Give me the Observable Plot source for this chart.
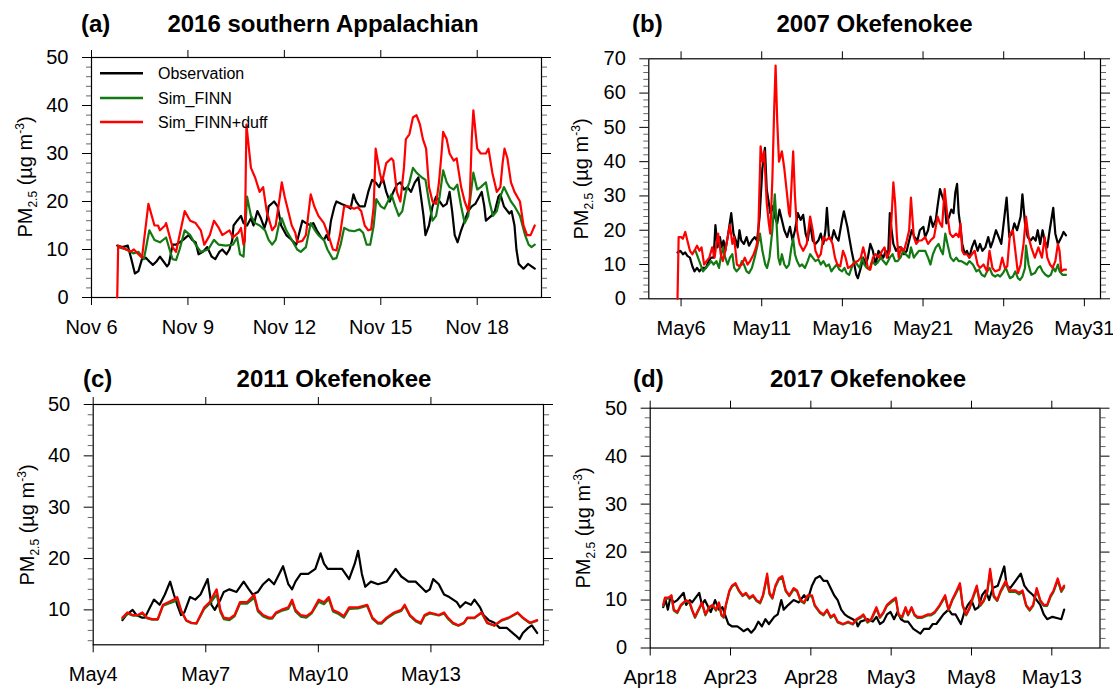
<!DOCTYPE html>
<html><head><meta charset="utf-8">
<script src="https://cdn.jsdelivr.net/npm/d3@7"></script>
<script src="https://cdn.jsdelivr.net/npm/@observablehq/plot@0.6"></script>
<style>
body{margin:0;background:#fff;}
#wrap{position:relative;width:1113px;height:688px;overflow:hidden;background:#fff;font-family:"Liberation Sans",Arial,Helvetica,sans-serif;color:#000;}
#wrap svg{position:absolute;}
</style></head>
<body><div id="wrap"></div>
<script>
// ---------- data: [day-of-month (decimal), PM2.5] ----------
const aObs=[[6.80,10.8],[6.96,10.5],[7.13,10.8],[7.24,8],[7.35,5],[7.46,5.5],[7.57,8],[7.69,8.3],[7.80,7.5],[7.91,6.8],[8.02,7.5],[8.13,8.5],[8.24,7.5],[8.35,6.5],[8.41,7],[8.52,11],[8.63,11],[8.74,11.5],[8.85,12],[9.02,13],[9.13,12],[9.24,11.5],[9.33,9],[9.46,9.5],[9.60,10.5],[9.74,8.5],[9.85,8],[9.98,9.5],[10.07,10],[10.20,9],[10.29,10],[10.38,12],[10.42,15],[10.53,16],[10.65,17],[10.73,15.5],[10.84,15],[10.96,16.5],[11.04,15],[11.16,18],[11.27,16.5],[11.38,14.5],[11.45,16],[11.51,19],[11.68,20],[11.79,19],[11.90,15],[12.06,13],[12.23,12],[12.37,11],[12.56,16],[12.67,15.5],[12.82,15],[12.90,15.5],[13.01,14],[13.15,12.5],[13.23,12],[13.31,13],[13.37,12],[13.45,16],[13.56,19],[13.62,20],[13.78,19.5],[13.95,19],[14.06,18.5],[14.15,21.5],[14.23,20],[14.34,19],[14.50,19],[14.61,22],[14.73,24.5],[14.84,24],[14.95,23],[15.06,25],[15.17,22],[15.28,20],[15.39,22],[15.50,23.5],[15.61,24],[15.72,22.5],[15.83,23],[15.94,22],[16.06,24],[16.17,25],[16.25,21],[16.33,17],[16.39,13],[16.50,15],[16.61,19],[16.72,21],[16.83,20],[16.94,19],[17.05,19.5],[17.14,22],[17.22,18],[17.30,13],[17.39,11.5],[17.50,14],[17.61,16],[17.72,18],[17.83,19],[17.94,19.5],[18.14,22],[18.22,19],[18.27,16],[18.44,17],[18.55,18],[18.66,21],[18.72,21.5],[18.83,19],[19.00,17.5],[19.07,18],[19.16,15],[19.22,10],[19.29,7],[19.44,6],[19.58,7],[19.69,6.5],[19.79,6]];
const aFinn=[[6.83,10.5],[7.08,10],[7.30,9.2],[7.46,9.5],[7.63,8],[7.80,14],[7.96,12],[8.13,11.5],[8.32,12.5],[8.43,10],[8.52,8],[8.63,7.8],[8.74,10],[8.90,14],[9.07,13],[9.24,11],[9.40,9.5],[9.63,10],[9.81,12],[9.96,11],[10.18,10.8],[10.40,11],[10.53,12.5],[10.62,9],[10.73,8.5],[10.79,15],[10.84,21],[10.96,17],[11.09,15.5],[11.23,15],[11.40,14],[11.51,12],[11.62,11],[11.73,12],[11.84,15.5],[11.92,16.5],[12.06,14],[12.23,12],[12.40,10],[12.51,9.5],[12.67,10.5],[12.82,15.5],[12.95,14],[13.06,13],[13.23,12],[13.34,10],[13.51,8],[13.62,8.2],[13.75,11],[13.86,14.5],[14.00,14],[14.17,13.8],[14.34,14.2],[14.45,13.5],[14.56,11],[14.67,11],[14.78,15],[14.86,20.5],[15.00,19],[15.11,18.5],[15.22,20],[15.33,21.5],[15.45,19],[15.56,17],[15.67,18],[15.78,22],[15.89,24],[16.00,27],[16.11,26],[16.28,25],[16.39,24.5],[16.50,20],[16.61,16],[16.72,17],[16.83,21],[16.94,26.5],[17.05,24],[17.14,23],[17.27,22.5],[17.38,23.5],[17.50,19],[17.61,15.5],[17.72,17],[17.81,22],[17.88,26],[18.00,22.5],[18.11,23],[18.27,24],[18.38,20],[18.49,17],[18.61,18],[18.72,21],[18.83,23],[18.94,21.5],[19.05,20],[19.16,19],[19.33,17],[19.49,13],[19.60,11],[19.69,10.5],[19.79,11]];
const aDuff=[[6.80,0],[6.83,10.8],[6.96,10.4],[7.08,10],[7.24,9.6],[7.32,10],[7.46,9],[7.57,8.3],[7.77,19.5],[7.96,15],[8.07,15],[8.13,14],[8.29,15],[8.32,15.5],[8.52,10.5],[8.63,9.5],[8.90,18],[9.07,16],[9.24,15.5],[9.40,14],[9.51,11],[9.68,13],[9.81,16],[9.96,14.5],[10.07,13],[10.29,14],[10.40,12.5],[10.57,13.5],[10.65,14.5],[10.73,11],[10.77,12],[10.82,36],[10.96,27],[11.09,25],[11.23,22],[11.34,23],[11.45,18],[11.62,14],[11.73,15],[11.86,21],[11.92,24],[12.01,21],[12.12,18],[12.23,15],[12.34,13.5],[12.40,11.5],[12.56,11.8],[12.67,13],[12.82,21.5],[12.93,19],[13.06,17],[13.23,15.5],[13.37,13],[13.51,10],[13.62,9.8],[13.73,13],[13.86,19],[14.00,19],[14.17,18.5],[14.28,18.8],[14.39,18],[14.50,15],[14.61,14],[14.70,14.2],[14.78,19],[14.84,31],[14.97,26],[15.04,24],[15.17,28],[15.33,29],[15.39,28.5],[15.50,22],[15.61,20],[15.72,27],[15.78,33],[15.89,34],[16.00,37.5],[16.11,38],[16.22,36],[16.31,33],[16.41,31],[16.50,23],[16.61,20],[16.72,19.5],[16.81,24],[16.89,30],[16.94,34.5],[17.05,33],[17.14,30],[17.27,28.5],[17.36,29],[17.50,23],[17.61,20],[17.72,18],[17.77,21],[17.83,33],[17.88,39],[18.00,31],[18.11,30],[18.27,30],[18.35,31],[18.47,26],[18.61,22],[18.72,23],[18.79,28],[18.85,31],[18.94,29],[19.05,24],[19.16,22],[19.33,20],[19.44,15],[19.55,13],[19.66,13],[19.79,15]];

const bObs=[[5.78,13.5],[5.96,14],[6.11,13],[6.26,13.5],[6.39,12.5],[6.55,12],[6.70,9.5],[6.83,8],[6.99,9],[7.14,8],[7.32,9],[7.54,9],[7.71,11],[7.86,12],[8.02,12],[8.13,21.5],[8.26,15],[8.41,18],[8.52,15],[8.63,17],[8.74,14],[8.89,18],[9.11,25],[9.25,19],[9.40,17],[9.51,15],[9.62,20],[9.73,17],[9.90,16],[10.06,18],[10.21,15.5],[10.39,17],[10.56,18],[10.71,17],[10.87,24],[11.04,38],[11.20,44],[11.31,32],[11.44,28],[11.53,25],[11.66,27],[11.81,24],[11.96,22],[12.10,26],[12.25,23],[12.40,20],[12.58,18],[12.75,21],[12.91,17],[13.06,20],[13.24,25],[13.41,23],[13.57,24.5],[13.72,19],[13.85,17],[14.00,22],[14.16,17],[14.33,16],[14.51,17],[14.66,19],[14.82,16],[14.95,20],[15.04,26.5],[15.17,18],[15.32,17],[15.47,20],[15.61,18],[15.76,17],[15.98,23],[16.09,25.5],[16.31,21],[16.42,18],[16.57,14],[16.70,11],[16.86,7],[16.96,6],[17.14,9],[17.29,12],[17.45,10],[17.58,12],[17.73,16],[17.89,14],[18.06,10],[18.24,14],[18.39,13],[18.54,12],[18.68,14],[18.83,12],[18.94,25],[19.05,20],[19.16,16],[19.33,14],[19.49,15],[19.64,15],[19.82,13],[19.99,14],[20.14,17],[20.30,20],[20.47,18],[20.65,17],[20.80,20],[21.02,21],[21.13,18],[21.31,20],[21.46,24],[21.61,21],[21.79,23],[21.90,27],[22.05,32],[22.18,30],[22.34,28],[22.45,22],[22.62,24],[22.75,26],[22.89,25],[23.00,31],[23.11,33.5],[23.21,25],[23.32,21],[23.43,16],[23.59,13],[23.72,14],[23.87,12],[24.03,15],[24.20,17],[24.38,14],[24.53,16],[24.68,14],[24.86,15],[25.04,18],[25.19,15],[25.34,17],[25.52,20],[25.69,18],[25.85,16],[26.18,29.5],[26.35,18],[26.50,19],[26.66,22],[26.83,20],[27.05,24],[27.16,30.5],[27.32,22],[27.49,18],[27.67,17],[27.82,18],[27.98,17],[28.11,20],[28.26,16],[28.41,20],[28.54,17],[28.70,15],[28.85,20],[29.07,26.5],[29.20,19],[29.36,16],[29.58,18],[29.71,19.5],[29.86,18.5]];
const bFinn=[[6.90,14],[7.05,12],[7.21,10],[7.36,8],[7.54,9],[7.71,10],[7.86,11],[8.02,10],[8.19,11],[8.35,9],[8.46,12],[8.59,15],[8.74,12],[8.89,10],[9.03,12],[9.18,13],[9.29,9],[9.44,8],[9.62,9],[9.77,11],[9.90,10],[10.06,8],[10.21,7.5],[10.39,9],[10.56,12],[10.71,15],[10.89,19],[11.04,14],[11.22,10],[11.33,9],[11.48,12],[11.66,20],[11.81,30.5],[11.92,22],[12.03,12],[12.14,10],[12.25,13],[12.40,10],[12.54,9],[12.69,10],[12.84,15],[12.95,17.5],[13.06,13],[13.19,11],[13.35,9.5],[13.50,10],[13.68,9],[13.85,11],[14.00,13],[14.16,12],[14.33,11],[14.51,11.5],[14.66,10],[14.82,11],[14.99,9.5],[15.17,10],[15.32,8],[15.47,9],[15.65,10],[15.82,8.5],[15.98,8],[16.13,9],[16.26,7.5],[16.42,7],[16.57,9],[16.75,11],[16.92,10],[17.07,9],[17.23,12],[17.36,10],[17.51,9],[17.67,8.5],[17.84,11],[18.02,10],[18.17,10.5],[18.39,12],[18.54,11],[18.72,10],[18.94,12],[19.11,13],[19.27,11],[19.42,11],[19.60,12],[19.77,14],[19.93,13],[20.14,12],[20.25,15],[20.43,12],[20.58,13],[20.74,14],[20.91,14],[21.13,14],[21.31,12],[21.46,10],[21.61,13],[21.79,15],[21.96,16],[22.12,14],[22.23,13],[22.38,19],[22.56,15],[22.71,12],[22.89,11],[23.06,12],[23.21,11],[23.37,11],[23.54,10.5],[23.72,10],[23.87,11],[24.09,10],[24.31,8],[24.46,8.5],[24.64,7],[24.82,6.5],[24.97,8],[25.12,9],[25.30,7],[25.47,6.5],[25.63,7],[25.78,6.5],[25.96,7.5],[26.13,9],[26.29,7],[26.39,6],[26.57,6.5],[26.72,8],[26.88,6],[27.01,5.5],[27.16,6.5],[27.32,9],[27.38,15.5],[27.54,10],[27.71,7],[27.93,7.5],[28.11,9],[28.26,9.5],[28.41,8],[28.59,7],[28.76,6.5],[28.92,7],[29.07,9],[29.20,8],[29.36,10],[29.46,8],[29.64,7],[29.86,7]];
const bDuff=[[5.78,0],[5.85,18],[6.00,18],[6.11,17.5],[6.26,19.5],[6.39,17],[6.55,14],[6.70,13],[6.88,14.5],[6.99,15.5],[7.14,14],[7.27,15],[7.43,10],[7.58,11],[7.75,12],[7.93,15],[8.08,12],[8.19,16],[8.30,19],[8.46,13],[8.59,11],[8.74,14],[8.89,18],[9.03,21.5],[9.18,16],[9.29,18],[9.46,10],[9.62,9.5],[9.77,10],[9.95,12],[10.12,10],[10.28,11],[10.50,13],[10.65,15],[10.78,18],[10.93,44.5],[11.04,40],[11.15,43],[11.31,28],[11.44,22],[11.53,19],[11.66,35],[11.77,55],[11.86,68],[11.96,52],[12.07,40],[12.25,43],[12.40,38],[12.58,30],[12.69,25],[12.75,24],[12.95,43],[13.06,30],[13.19,20],[13.35,16],[13.57,14],[13.79,16],[14.00,24],[14.16,20],[14.33,14],[14.51,12],[14.66,13],[14.82,18],[14.99,17],[15.21,18],[15.39,16],[15.54,12],[15.69,10],[15.87,9.5],[16.04,14],[16.20,12],[16.35,9],[16.53,9.5],[16.75,10.5],[16.96,11],[17.14,12],[17.29,15],[17.45,12],[17.58,9],[17.73,8.5],[17.89,12],[18.06,13],[18.28,12],[18.46,14],[18.61,15],[18.76,12],[18.94,14],[19.16,34],[19.27,28],[19.38,18],[19.49,12],[19.64,15],[19.82,14],[19.99,17],[20.14,20],[20.25,29.5],[20.43,18],[20.58,16],[20.74,17],[20.91,17],[21.13,18],[21.31,16],[21.46,17],[21.68,18],[21.90,24],[22.05,22],[22.18,21],[22.34,32],[22.49,25],[22.67,19],[22.84,18],[23.06,19],[23.21,18],[23.32,22],[23.43,14],[23.54,13],[23.72,13],[23.87,12],[24.03,13],[24.20,14],[24.38,10],[24.53,9],[24.75,10],[24.97,8],[25.12,14],[25.30,9],[25.47,8],[25.74,8.5],[25.91,12],[26.07,9],[26.22,9.5],[26.39,19],[26.57,20],[26.72,14],[26.88,7.5],[27.05,10],[27.23,16],[27.38,24],[27.54,18],[27.71,15],[27.93,12],[28.15,15],[28.37,12],[28.54,18],[28.70,12],[28.87,10],[29.03,9],[29.20,11],[29.36,16],[29.46,14],[29.57,8],[29.73,8.5],[29.86,8.5]];

const cObs=[[4.78,8],[4.88,9],[5.05,10],[5.15,9],[5.29,8.5],[5.38,8.5],[5.48,10],[5.62,12],[5.77,11],[5.91,13],[6.05,15.5],[6.15,13],[6.24,11],[6.34,9],[6.43,9.5],[6.58,12.5],[6.72,12],[6.86,13],[7.05,16],[7.15,11],[7.24,10],[7.39,12],[7.48,13.5],[7.63,14],[7.82,13.5],[8.01,15.5],[8.15,14],[8.25,13],[8.39,13.5],[8.53,15],[8.68,16],[8.82,15],[9.06,18.5],[9.20,15],[9.30,14],[9.39,15.5],[9.53,17],[9.73,17],[9.92,18],[10.06,21],[10.15,19],[10.25,18],[10.44,18],[10.63,18],[10.82,16],[10.97,19],[11.06,21.5],[11.16,17],[11.25,14.5],[11.40,15.5],[11.59,15],[11.82,15.5],[12.06,18],[12.21,16.5],[12.40,15.5],[12.59,15.5],[12.73,14.5],[12.87,13.5],[12.97,14],[13.06,16],[13.21,15],[13.35,13],[13.49,12.5],[13.69,11.5],[13.78,10.5],[13.92,11.5],[14.07,11],[14.16,12],[14.31,10.5],[14.40,9],[14.54,8],[14.69,7.5],[14.83,6.5],[15.02,6.5],[15.26,5],[15.36,4.3],[15.45,5.5],[15.59,6.5],[15.69,7],[15.83,5.5]];
const cFinn=[[4.78,8.3],[4.91,9.3],[5.05,8.9],[5.19,8.9],[5.31,9.3],[5.43,8.4],[5.57,8.1],[5.72,8.1],[5.86,10.8],[6.00,11.2],[6.15,11.6],[6.24,12],[6.34,9.8],[6.48,7.9],[6.62,7.4],[6.75,7.3],[6.86,8.8],[6.96,10.2],[7.10,11.2],[7.29,13],[7.39,9.6],[7.48,8.2],[7.63,8],[7.77,8.8],[7.91,11.2],[8.10,11.2],[8.23,12],[8.29,12.4],[8.39,9.7],[8.53,8.7],[8.68,8.3],[8.77,8.3],[8.87,9.3],[9.01,9.8],[9.20,10.2],[9.30,11.6],[9.39,9.7],[9.53,8.7],[9.68,8.5],[9.82,9.3],[10.01,11.6],[10.15,11.1],[10.28,12.1],[10.39,9.7],[10.54,9.2],[10.68,8.5],[10.82,10.2],[11.06,10.3],[11.30,10.8],[11.44,8.3],[11.59,7.3],[11.68,7.3],[11.82,8.3],[12.02,9.3],[12.21,9.8],[12.30,10.8],[12.44,8.8],[12.59,7.8],[12.73,7.3],[12.83,8.8],[12.97,9.3],[13.21,8.9],[13.35,9.3],[13.45,8.3],[13.59,7.3],[13.73,6.9],[13.88,7.4],[13.97,8.4],[14.16,8.4],[14.35,9.4],[14.50,7.4],[14.69,6.9],[14.88,7.9],[15.07,8.4],[15.31,9.4],[15.45,8.4],[15.64,7.4],[15.83,7.9]];
const cDuff=[[4.78,8.5],[4.91,9.5],[5.05,9],[5.19,9],[5.31,9.5],[5.43,8.5],[5.57,8.2],[5.72,8.2],[5.86,11],[6.00,11.5],[6.15,12],[6.24,12.5],[6.34,10],[6.48,8],[6.62,7.5],[6.75,7.4],[6.86,9],[6.96,10.5],[7.10,11.5],[7.29,14],[7.39,10],[7.48,8.5],[7.63,8.3],[7.77,9],[7.91,11.5],[8.10,11.5],[8.23,12.5],[8.29,13],[8.39,10],[8.53,9],[8.68,8.5],[8.77,8.5],[8.87,9.5],[9.01,10],[9.20,10.5],[9.30,12],[9.39,10],[9.53,9],[9.68,8.8],[9.82,9.5],[10.01,12],[10.15,11.5],[10.28,12.5],[10.39,10],[10.54,9.5],[10.68,8.8],[10.82,10.5],[11.06,10.5],[11.30,11],[11.44,8.5],[11.59,7.5],[11.68,7.5],[11.82,8.5],[12.02,9.5],[12.21,10],[12.30,11],[12.44,9],[12.59,8],[12.73,7.5],[12.83,9],[12.97,9.5],[13.21,9],[13.35,9.5],[13.45,8.5],[13.59,7.5],[13.73,7],[13.88,7.5],[13.97,8.5],[14.16,8.5],[14.35,9.5],[14.50,7.5],[14.69,7],[14.88,8],[15.07,8.5],[15.31,9.5],[15.45,8.5],[15.64,7.5],[15.83,8]];

// panel d: day counted from 0 April (so 31 = 1 May)
const dObs=[[18.81,8.5],[18.96,10],[19.10,8],[19.25,10.5],[19.47,9.5],[19.69,10],[20.08,11.5],[20.24,9],[20.46,10],[20.61,9.5],[21.05,11.5],[21.22,9],[21.40,10],[21.62,8.5],[21.77,7.5],[22.04,10],[22.28,8],[22.50,8.5],[22.65,7],[22.87,5],[23.09,4.5],[23.42,4.5],[23.64,4],[23.81,3.5],[24.07,4],[24.29,3.2],[24.51,4],[24.73,5.5],[24.95,4.5],[25.17,6],[25.39,5],[25.72,6.5],[25.94,7],[26.16,10],[26.31,8],[26.60,9],[26.93,10],[27.25,9.5],[27.58,11],[27.80,10],[28.07,13],[28.29,14.5],[28.57,15],[28.79,14],[29.01,14],[29.23,12.5],[29.45,11],[29.67,10],[29.89,8],[30.11,7],[30.32,6.5],[30.61,6],[30.83,5.5],[30.92,4.5],[31.09,5.5],[31.53,6],[31.86,5.5],[32.08,6.5],[32.30,5],[32.52,5.5],[32.74,7],[32.96,7.5],[33.18,6],[33.39,7.5],[33.61,6],[33.83,5.5],[34.05,5.5],[34.38,4],[34.82,3],[35.04,4],[35.37,4],[35.59,5],[35.81,5],[36.03,6],[36.25,7],[36.57,8],[36.79,7],[37.01,7],[37.34,5],[37.56,7.5],[37.78,9],[38.00,10],[38.22,8],[38.44,8.5],[38.66,11],[38.88,12],[39.10,10],[39.32,12.5],[39.64,13],[40.04,17],[40.19,13],[40.41,12.5],[40.74,14],[41.07,15.5],[41.29,13],[41.51,12],[41.84,11],[42.06,10],[42.28,9],[42.50,7],[42.71,6],[43.04,6.5],[43.37,6.2],[43.59,6],[43.77,8]];
const dFinn=[[18.81,8.8],[18.92,10.3],[19.14,10.3],[19.32,10.8],[19.47,7.8],[19.69,7.3],[19.91,8.8],[20.24,9.8],[20.46,9.3],[20.61,7.8],[20.79,6.3],[21.00,7.8],[21.22,9.3],[21.44,6.8],[21.66,8.3],[21.88,8.8],[22.10,7.8],[22.28,9.3],[22.43,6.8],[22.58,6.3],[22.71,8.8],[22.93,11.8],[23.09,12.8],[23.31,13.3],[23.53,11.8],[23.75,10.8],[23.96,11.3],[24.18,10.3],[24.40,10.8],[24.62,9.8],[24.84,9.3],[25.02,10.8],[25.17,13.2],[25.28,14.8],[25.43,11.2],[25.61,10.3],[25.79,12.7],[26.00,14.2],[26.22,14.6],[26.44,11.8],[26.66,10.8],[26.93,12.2],[27.14,11.8],[27.36,9.8],[27.58,9.3],[27.80,10.8],[28.07,10.8],[28.24,8.8],[28.57,7.3],[28.79,6.8],[29.01,7.8],[29.23,6.3],[29.45,6.8],[29.67,5.3],[30.00,4.9],[30.32,5.3],[30.61,4.9],[30.83,5.8],[31.09,6.3],[31.27,6.8],[31.53,5.3],[31.75,5.8],[32.08,8.2],[32.30,6.3],[32.52,7.3],[32.74,8.8],[33.07,9.7],[33.29,10.2],[33.46,6.8],[33.68,6.3],[33.90,8.3],[34.05,6.8],[34.27,8.3],[34.45,6.8],[34.64,6.3],[34.93,6.3],[35.26,6.8],[35.48,6.8],[35.70,7.3],[36.03,8.8],[36.36,10.7],[36.57,7.8],[36.79,9.8],[37.01,11.2],[37.28,13.1],[37.45,8.8],[37.67,6.8],[37.89,8.3],[38.07,10.2],[38.33,12.6],[38.55,8.8],[38.77,9.8],[38.99,11.7],[39.16,15.8],[39.38,10.7],[39.60,9.8],[39.82,11.7],[40.13,13.6],[40.35,11.7],[40.74,11.7],[40.96,11.2],[41.18,11.7],[41.40,8.8],[41.62,7.8],[41.84,8.8],[42.06,12.1],[42.28,9.8],[42.50,8.8],[42.71,8.8],[42.93,10.7],[43.11,11.7],[43.37,14.1],[43.59,11.7],[43.77,12.7]];
const dDuff=[[18.81,9],[18.92,10.5],[19.14,10.5],[19.32,11],[19.47,8],[19.69,7.5],[19.91,9],[20.24,10],[20.46,9.5],[20.61,8],[20.79,6.5],[21.00,8],[21.22,9.5],[21.44,7],[21.66,8.5],[21.88,9],[22.10,8],[22.28,9.5],[22.43,7],[22.58,6.5],[22.71,9],[22.93,12],[23.09,13],[23.31,13.5],[23.53,12],[23.75,11],[23.96,11.5],[24.18,10.5],[24.40,11],[24.62,10],[24.84,9.5],[25.02,11],[25.17,13.5],[25.28,15.5],[25.43,11.5],[25.61,10.5],[25.79,13],[26.00,14.5],[26.22,15],[26.44,12],[26.66,11],[26.93,12.5],[27.14,12],[27.36,10],[27.58,9.5],[27.80,11],[28.07,11],[28.24,9],[28.57,7.5],[28.79,7],[29.01,8],[29.23,6.5],[29.45,7],[29.67,5.5],[30.00,5],[30.32,5.5],[30.61,5],[30.83,6],[31.09,6.5],[31.27,7],[31.53,5.5],[31.75,6],[32.08,8.5],[32.30,6.5],[32.52,7.5],[32.74,9],[33.07,10],[33.29,10.5],[33.46,7],[33.68,6.5],[33.90,8.5],[34.05,7],[34.27,8.5],[34.45,7],[34.64,6.5],[34.93,6.5],[35.26,7],[35.48,7],[35.70,7.5],[36.03,9],[36.36,11],[36.57,8],[36.79,10],[37.01,11.5],[37.28,13.5],[37.45,9],[37.67,7],[37.89,8.5],[38.07,10.5],[38.33,13],[38.55,9],[38.77,10],[38.99,12],[39.16,16.5],[39.38,11],[39.60,10],[39.82,12],[40.13,14],[40.35,12],[40.74,12],[40.96,11.5],[41.18,12],[41.40,9],[41.62,8],[41.84,9],[42.06,12.5],[42.28,10],[42.50,9],[42.71,9],[42.93,11],[43.11,12],[43.37,14.5],[43.59,12],[43.77,13]];

// ---------- ticks ----------
const aTickDays=[6,9,12,15,18], aTickLabels=["Nov 6","Nov 9","Nov 12","Nov 15","Nov 18"];
const bTickDays=[6,11,16,21,26,31], bTickLabels=["May6","May11","May16","May21","May26","May31"];
const cTickDays=[4,7,10,13], cTickLabels=["May4","May7","May10","May13"];
const dTickDays=[18,23,28,33,38,43], dTickLabels=["Apr18","Apr23","Apr28","May3","May8","May13"];
const yMajor50=[0,10,20,30,40,50], yMajor70=[0,10,20,30,40,50,60,70], yMajorC=[10,20,30,40,50];

const seriesNames=["Observation","Sim_FINN","Sim_FINN+duff"];
const seriesColors=["#000000","#137a13","#ff0000"];
const panelTitles=["2016 southern Appalachian","2007 Okefenokee","2011 Okefenokee","2017 Okefenokee"];
const panelTags=["(a)","(b)","(c)","(d)"];

// ---------- drawing ----------
const FONT='"Liberation Sans", Arial, Helvetica, sans-serif';
const TICKFONT=20;
const DAY=864e5;
const toDate=(y,m,d)=>new Date(Date.UTC(y,m,0)+d*DAY);
const rows=(pairs,y,m)=>pairs.map(([d,v])=>({t:toDate(y,m,d),v}));

function panel(p){
  const xt=p.tickDays.map(d=>toDate(p.year,p.month,d));
  const lab=new Map(xt.map((t,i)=>[+t,p.tickLabels[i]]));
  const minor=d3.range(Math.ceil(p.ymin/2)*2,p.ymax+0.001,2).filter(v=>v%10!==0);
  const data=p.series.map(s=>rows(s,p.year,p.month));
  return Plot.plot({
    width:556,height:344,
    marginLeft:p.mL,marginRight:p.mR,marginTop:p.mT,marginBottom:p.mB,
    style:{fontFamily:FONT,fontSize:TICKFONT+"px",color:"#000",background:"none",overflow:"visible"},
    x:{type:"utc",domain:[toDate(p.year,p.month,p.x0),toDate(p.year,p.month,p.x1)],label:null},
    y:{domain:[p.ymin,p.ymax],label:null},
    marks:[
      Plot.axisY(minor,{anchor:"left",tickSize:5,fill:"none",stroke:"#666"}),
      Plot.axisY(minor,{anchor:"right",tickSize:5,fill:"none",stroke:"#666"}),
      Plot.axisY(p.major,{anchor:"left",tickSize:9,tickPadding:14,label:null,fontSize:TICKFONT,tickFormat:d=>String(d)}),
      Plot.axisY(p.major,{anchor:"right",tickSize:9,fill:"none"}),
      Plot.axisX(xt,{anchor:"bottom",tickSize:8,tickPadding:14,label:null,fontSize:TICKFONT,tickFormat:t=>lab.get(+t)}),
      Plot.axisX(xt,{anchor:"top",tickSize:8,fill:"none"}),
      Plot.frame({stroke:"#000",strokeWidth:1.2}),
      ...data.map((d,i)=>Plot.line(d,{x:"t",y:"v",stroke:seriesColors[i],strokeWidth:2.2}))
    ]
  });
}

const wrap=document.getElementById("wrap");
const panels=[
  {year:2016,month:10,x0:6,x1:20,tickDays:aTickDays,tickLabels:aTickLabels,ymin:0,ymax:50,major:yMajor50,series:[aObs,aFinn,aDuff],left:0,top:0,mL:91,mR:15,mT:57,mB:47},
  {year:2007,month:4,x0:4,x1:32,tickDays:bTickDays,tickLabels:bTickLabels,ymin:0,ymax:70,major:yMajor70,series:[bObs,bFinn,bDuff],left:557,top:0,mL:91.3,mR:13,mT:58.3,mB:45.7},
  {year:2011,month:4,x0:4,x1:16,tickDays:cTickDays,tickLabels:cTickLabels,ymin:3.2,ymax:50,major:yMajorC,series:[cObs,cFinn,cDuff],left:0,top:344,mL:92.7,mR:13,mT:60,mB:43.7},
  {year:2017,month:3,x0:18,x1:46,tickDays:dTickDays,tickLabels:dTickLabels,ymin:0,ymax:50,major:yMajor50,series:[dObs,dFinn,dDuff],left:557,top:344,mL:92.7,mR:13.5,mT:63.7,mB:40.5}
];
for(const p of panels){
  const svg=panel(p);
  svg.style.left=p.left+"px"; svg.style.top=p.top+"px";
  wrap.appendChild(svg);
}

// overlay: titles, y labels, legend
const ov=d3.create("svg").attr("width",1113).attr("height",688)
  .style("left","0px").style("top","0px").style("pointer-events","none")
  .attr("font-family",FONT);
const titlePos=[[81,323,31.7],[632,874.5,31.7],[83,334,386.7],[633,868,386.7]];
titlePos.forEach(([tx,cx,by],i)=>{
  ov.append("text").attr("x",tx).attr("y",by).attr("font-weight","bold").attr("font-size",24).text(panelTags[i]);
  ov.append("text").attr("x",cx).attr("y",by).attr("font-weight","bold").attr("font-size",24).attr("text-anchor","middle").text(panelTitles[i]);
});
const ylabPos=[[32,177],[588,179],[34,525],[590,528]];
ylabPos.forEach(([bx,cy])=>{
  const t=ov.append("text").attr("transform",`translate(${bx},${cy}) rotate(-90)`).attr("text-anchor","middle").attr("font-size",20);
  t.append("tspan").text("PM");
  t.append("tspan").attr("dy",5).attr("font-size",12).text("2.5");
  t.append("tspan").attr("dy",-5).text(" (\u00b5g m");
  t.append("tspan").attr("dy",-8).attr("font-size",12).text("-3");
  t.append("tspan").attr("dy",8).text(")");
});
const legY=[73.3,98,122];
legY.forEach((y,i)=>{
  ov.append("line").attr("x1",100).attr("x2",143).attr("y1",y).attr("y2",y).attr("stroke",seriesColors[i]).attr("stroke-width",2.6);
  ov.append("text").attr("x",158).attr("y",y+5.7).attr("font-size",16).text(seriesNames[i]);
});
wrap.appendChild(ov.node());
</script>
</body></html>
